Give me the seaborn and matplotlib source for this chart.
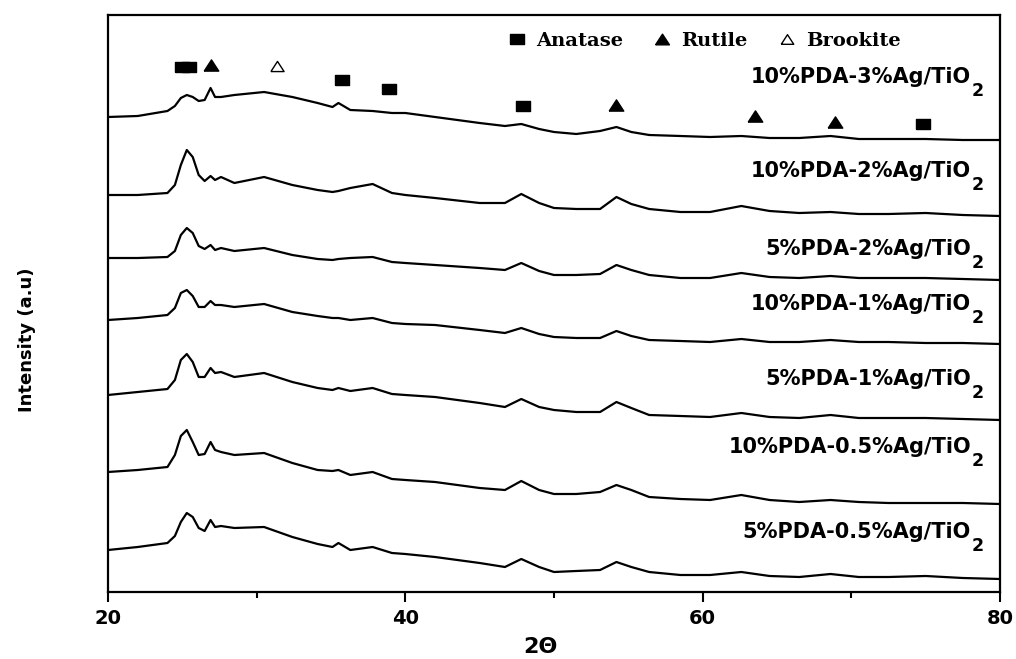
import matplotlib
matplotlib.use("Agg")
import matplotlib.pyplot as plt
import numpy as np
import pandas as pd
import seaborn as sns
from matplotlib.lines import Line2D

# ---------------- data ----------------
two_theta = [20, 22, 24, 24.5, 24.9, 25.3, 25.7, 26.1, 26.5, 26.9, 27.2, 27.6, 28.5,
             30.5, 32.4, 34.1, 35.1, 35.5, 36.3, 37.8, 39.1, 40, 42, 45, 46.7, 47.8,
             49, 50, 51.5, 53.1, 54.2, 55.2, 56.4, 58.5, 60.5, 62.6, 64.5, 66.5, 68.6,
             70.5, 72.5, 75, 77.5, 80]

sample_names = ["10%PDA-3%Ag/TiO", "10%PDA-2%Ag/TiO", "5%PDA-2%Ag/TiO",
                "10%PDA-1%Ag/TiO", "5%PDA-1%Ag/TiO", "10%PDA-0.5%Ag/TiO",
                "5%PDA-0.5%Ag/TiO"]

int_10pda_3ag = [23, 24, 29, 34, 42, 45, 43, 39, 40, 52, 43, 43, 45, 48, 43, 37, 33, 37, 30, 29,
                 27, 27, 23, 17, 14, 16, 11, 8, 6, 9, 13, 8, 5, 4, 3, 4, 2, 2, 4, 1, 1, 1, 0, 0]
int_10pda_2ag = [21, 21, 23, 31, 51, 66, 59, 41, 35, 40, 36, 39, 33, 39, 31, 26, 24, 25, 28, 32,
                 23, 21, 18, 13, 13, 22, 13, 8, 7, 7, 19, 12, 7, 4, 4, 10, 5, 3, 4, 2, 2, 3, 1, 0]
int_5pda_2ag = [22, 22, 23, 29, 45, 52, 47, 34, 31, 35, 30, 32, 29, 32, 25, 21, 20, 21, 22, 23,
                18, 17, 15, 12, 10, 17, 9, 5, 5, 6, 15, 10, 5, 2, 2, 7, 3, 2, 4, 2, 2, 2, 1, 0]
int_10pda_1ag = [24, 26, 29, 36, 51, 54, 48, 37, 37, 43, 39, 39, 37, 40, 32, 28, 26, 26, 24, 26,
                 21, 20, 19, 14, 11, 16, 10, 7, 6, 6, 13, 8, 4, 3, 2, 5, 2, 2, 4, 2, 2, 1, 1, 0]
int_5pda_1ag = [25, 28, 31, 40, 60, 66, 58, 43, 43, 52, 47, 48, 43, 47, 38, 32, 30, 32, 29, 32,
                26, 25, 23, 17, 13, 21, 13, 10, 8, 8, 18, 12, 5, 4, 3, 7, 3, 2, 5, 2, 2, 2, 1, 0]
int_10pda_05ag = [32, 34, 37, 49, 68, 74, 62, 49, 50, 62, 54, 52, 49, 51, 41, 34, 33, 34, 29, 32,
                  25, 24, 22, 16, 14, 23, 14, 10, 10, 12, 19, 14, 7, 5, 4, 9, 4, 2, 4, 2, 1, 1, 1, 0]
int_5pda_05ag = [29, 32, 36, 43, 57, 66, 62, 51, 48, 59, 52, 53, 51, 52, 42, 35, 32, 36, 29, 32,
                 26, 25, 22, 16, 12, 20, 12, 7, 8, 9, 17, 12, 7, 4, 4, 7, 3, 2, 5, 2, 2, 3, 1, 0]

# vertical stacking offsets (a.u.)
stack_offsets = [452, 376, 312, 248, 172, 88, 13]

# phase reflection markers (2theta, a.u.)
anatase_2theta = [24.95, 25.45, 35.75, 38.9, 47.9, 74.8]
anatase_level = [525, 525, 512, 503, 486, 468]
rutile_2theta = [26.95, 54.2, 63.5, 68.9]
rutile_level = [527, 487, 476, 470]
brookite_2theta = [31.4]
brookite_level = [526]

# ------------------------------------------------------------------------
patterns = [int_10pda_3ag, int_10pda_2ag, int_5pda_2ag, int_10pda_1ag,
            int_5pda_1ag, int_10pda_05ag, int_5pda_05ag]

rows = []
for name, vals, off in zip(sample_names, patterns, stack_offsets):
    for t, v in zip(two_theta, vals):
        rows.append({"two_theta": t, "intensity": v + off, "sample": name})
df = pd.DataFrame(rows)

sns.set_style("ticks")
plt.rcParams["font.family"] = ["DejaVu Sans"]

fig = plt.figure(figsize=(10.16, 6.59), dpi=100)
ax = fig.add_axes([108 / 1016, 67 / 659, 892 / 1016, 577 / 659])

for name in sample_names:
    sub = df[df["sample"] == name]
    sns.lineplot(data=sub, x="two_theta", y="intensity", ax=ax, color="black",
                 lw=1.6, estimator=None, sort=False, legend=False)

rect_marker = [(-0.65, -0.5), (0.65, -0.5), (0.65, 0.5), (-0.65, 0.5), (-0.65, -0.5)]
tri_marker = [(-0.65, -0.5), (0.65, -0.5), (0.0, 0.5), (-0.65, -0.5)]

ax.plot(anatase_2theta, anatase_level, ls="none", marker=rect_marker, ms=9.5,
        color="black")
ax.plot(rutile_2theta, rutile_level, ls="none", marker=tri_marker, ms=10.5,
        color="black")
ax.plot(brookite_2theta, brookite_level, ls="none", marker=tri_marker, ms=9.5,
        mfc="white", mec="black", mew=1.0)

# sample labels
label_x = 78.04
label_base = [509, 415, 337, 282, 207, 139, 54]
for name, yb in zip(sample_names, label_base):
    ax.text(label_x, yb, name, ha="right", va="baseline", fontsize=15,
            fontweight="bold", color="black")
    ax.annotate("2", xy=(label_x, yb), xytext=(0.5, 0.5), textcoords="offset points",
                ha="left", va="top", fontsize=12.5, fontweight="bold", color="black")

# legend for phases
handles = [
    Line2D([], [], ls="none", marker=rect_marker, ms=10, color="black", label="Anatase"),
    Line2D([], [], ls="none", marker=tri_marker, ms=10, color="black", label="Rutile"),
    Line2D([], [], ls="none", marker=tri_marker, ms=9, mfc="white", mec="black",
           mew=1.0, label="Brookite"),
]
leg = ax.legend(handles=handles, loc="center", bbox_to_anchor=(0.668, 0.955), ncol=3,
                frameon=False, handlelength=1.0, handletextpad=0.5, columnspacing=1.5,
                prop={"family": "DejaVu Serif", "weight": "bold", "size": 14},
                borderaxespad=0, borderpad=0)
for t in leg.get_texts():
    t.set_color("black")

ax.set_xlim(20, 80)
ax.set_ylim(0, 577)
ax.set_xticks([20, 40, 60, 80])
ax.set_xticks([30, 50, 70], minor=True)
ax.set_yticks([])
ax.tick_params(axis="x", which="major", direction="out", length=7, width=1.5,
               labelsize=14, pad=5, colors="black")
ax.tick_params(axis="x", which="minor", direction="out", length=4.5, width=1.5,
               colors="black")
for lab in ax.get_xticklabels():
    lab.set_fontweight("bold")
    lab.set_color("black")
for sp in ax.spines.values():
    sp.set_visible(True)
    sp.set_linewidth(1.6)
    sp.set_color("black")

ax.set_xlabel("2Θ", fontsize=16, fontweight="bold", color="black")
ax.xaxis.set_label_coords(0.485, -0.078)
ax.set_ylabel("Intensity (a.u)", fontsize=13, fontweight="bold", color="black",
              ha="center", va="center")
ax.yaxis.set_label_coords(-0.091, 0.437)

fig.savefig("out.png", dpi=100)
